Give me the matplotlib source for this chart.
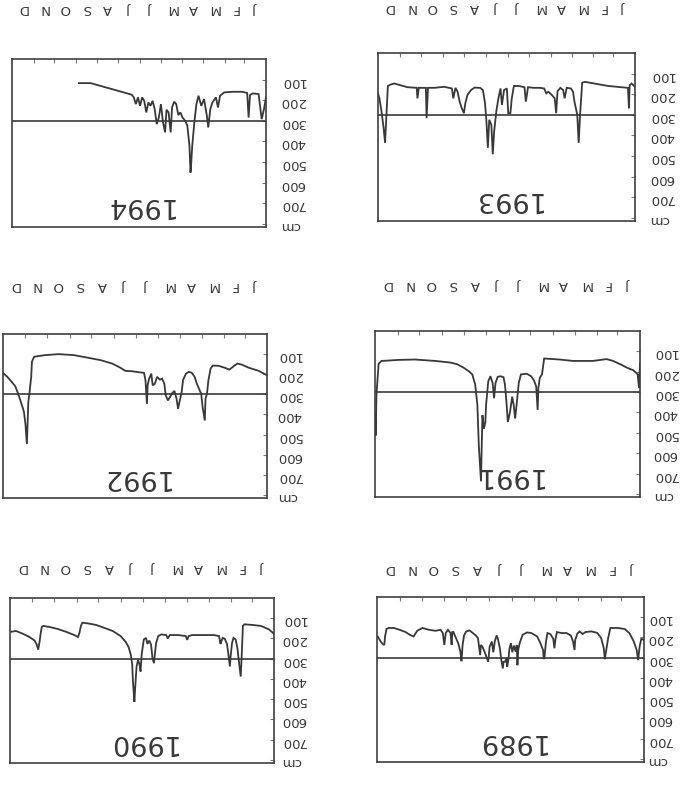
import matplotlib
matplotlib.use("Agg")
import matplotlib.pyplot as plt

# ---- axis vocabulary -------------------------------------------------------
months = ["J", "F", "M", "A", "M", "J", "J", "A", "S", "O", "N", "D"]
month_starts = [0, 31, 59, 90, 120, 151, 181, 212, 243, 273, 304, 334, 365]
depth_ticks = [100, 200, 300, 400, 500, 600, 700]
unit_label = "cm"
reference_level = 300

# ---- daily series (day of year, cm) ---------------------------------------
day_1989 = [0, 3.7, 6, 8, 10, 14, 20, 26.5, 36, 46, 49, 52, 53.5, 55, 58.5, 64, 72, 80, 84, 88,
            91, 94, 95, 97, 100, 106, 113, 119, 121, 122.5, 124, 128, 132, 134, 136, 137, 138,
            142, 146, 154, 160, 166, 170, 172, 173, 174, 175.5, 178, 180, 182, 184, 185.5, 187,
            188, 190, 192, 193, 195, 197, 200, 201.5, 204, 206, 208, 211, 213, 216, 218, 221,
            223, 224, 227, 230, 234, 238.5, 243, 246, 248, 249.5, 251, 254, 258, 260.5, 262,
            263, 264.5, 268, 271, 273, 275, 278, 285, 294, 303, 310, 315, 320, 326, 334, 342,
            349, 352, 354, 355, 357, 360, 364]
cm_1989 = [212, 207, 245, 312, 262, 220, 178, 158, 153, 153, 203, 270, 307, 253, 203, 177, 170,
           173, 183, 170, 180, 212, 262, 220, 190, 178, 178, 173, 207, 253, 207, 183, 178, 220,
           295, 307, 262, 225, 195, 178, 175, 187, 228, 262, 337, 237, 270, 240, 273, 228, 257,
           312, 345, 303, 320, 320, 353, 312, 253, 203, 190, 220, 273, 220, 245, 320, 290, 270,
           245, 237, 287, 203, 190, 178, 165, 170, 190, 237, 317, 270, 228, 195, 173, 173, 237,
           178, 162, 178, 237, 178, 162, 167, 162, 153, 167, 195, 187, 173, 162, 153, 153, 158,
           195, 237, 233, 220, 195]

day_1990 = [0, 7, 18, 30, 41, 43, 44.6, 46, 48, 50.6, 53, 56, 58, 60, 61, 63, 65, 68, 71, 73,
            74, 76, 83, 99, 113, 118, 120, 122, 133, 144, 147, 149, 156, 160, 163, 165, 166,
            168, 170, 172.5, 175, 177, 180, 183, 184.5, 186, 188, 190, 192, 193, 195, 196, 198,
            201, 205, 212, 223, 235, 246, 258, 265, 267, 269, 271, 276, 287.5, 299, 310.5, 319,
            321, 322.5, 324, 326, 328, 331, 338, 347, 356.5, 364]
cm_1990 = [177, 155, 138, 133, 130, 138, 280, 388, 330, 247, 205, 197, 222, 288, 338, 280, 227,
           202, 197, 217, 227, 188, 183, 183, 183, 188, 207, 188, 183, 183, 200, 183, 180, 188,
           222, 288, 322, 297, 230, 210, 227, 197, 205, 280, 363, 327, 305, 338, 447, 513, 413,
           330, 280, 243, 217, 188, 163, 147, 133, 125, 122, 138, 172, 193, 183, 167, 153, 143,
           138, 142, 172, 213, 255, 230, 210, 193, 177, 163, 167]

day_1991 = [0, 1.4, 3.2, 9, 18, 25, 37, 46, 65, 92, 111, 132, 135, 138, 140, 141, 143, 146,
            150, 156, 164, 167, 170, 172, 174, 176, 179, 182, 184, 186, 188, 192, 196, 199, 201,
            203, 206, 209, 212, 213, 215, 217, 218, 219, 222, 224, 227, 231, 236, 243, 252, 261,
            282, 310, 333, 356, 360, 363, 364, 365]
cm_1991 = [160, 280, 213, 193, 180, 167, 147, 138, 147, 147, 140, 135, 213, 230, 280, 388, 272,
           243, 222, 210, 213, 255, 363, 430, 363, 322, 397, 447, 347, 263, 227, 222, 225, 255,
           330, 255, 222, 247, 363, 447, 480, 413, 563, 738, 563, 363, 263, 213, 197, 180, 163,
           155, 147, 140, 142, 147, 160, 313, 513, 413]

day_1992 = [0, 11.5, 25, 35, 41, 46, 52, 59, 67, 75, 78, 81, 83, 85, 86, 89, 91, 94, 97, 100,
            104, 108, 112, 116, 118, 121, 123, 125, 128, 131, 134, 137, 140, 142, 145, 148, 152,
            155, 158, 160, 163, 165, 166, 168, 170, 177, 187, 196, 203, 214, 230, 249, 267, 288,
            307, 322, 325, 326, 328, 330, 331, 332, 334, 336, 338, 341, 344, 348, 353, 359, 365]
cm_1992 = [205, 183, 168, 152, 147, 160, 177, 167, 158, 157, 172, 230, 297, 322, 430, 363, 297,
           272, 247, 213, 193, 188, 197, 227, 288, 338, 372, 322, 283, 293, 313, 330, 305, 247,
           222, 227, 213, 247, 255, 197, 222, 255, 347, 230, 193, 190, 185, 183, 167, 147, 130,
           117, 105, 100, 105, 113, 138, 213, 280, 338, 447, 547, 447, 388, 363, 330, 297, 260,
           238, 213, 193]

day_1993 = [0, 4.8, 7.6, 8.6, 10, 38, 71, 75, 78, 80, 82, 86, 88, 91, 97, 100, 102, 106, 110,
            112, 114, 118, 123, 126, 129, 135, 144, 152, 155, 157, 165, 172, 175, 177, 180, 182,
            186, 189, 191, 194, 197, 200, 202, 204, 207, 209, 211, 213, 216, 220, 228, 233, 238,
            241, 243, 246, 249, 252, 255, 258, 260, 271, 285, 294, 296, 297, 307, 309, 310, 323,
            342, 347, 351, 353, 355, 357, 360, 363, 365]
cm_1993 = [164, 148, 156, 268, 169, 160, 140, 144, 300, 436, 300, 236, 188, 172, 169, 220, 180,
           169, 185, 292, 220, 204, 188, 196, 172, 169, 169, 166, 236, 166, 160, 160, 220, 292,
           292, 172, 180, 252, 172, 220, 284, 380, 491, 348, 324, 460, 332, 244, 180, 169, 168,
           180, 204, 244, 292, 268, 236, 188, 169, 220, 172, 164, 169, 169, 316, 169, 169, 220,
           169, 166, 148, 153, 160, 300, 436, 364, 284, 220, 196]

day_1994 = [0, 2.9, 6.2, 8.6, 10.6, 19, 23, 25, 27, 34, 48, 60, 66, 69, 72, 77, 80, 83, 85, 89,
            93, 97, 100, 103, 106, 108, 108.5, 110, 113, 116, 120, 123, 126, 129, 132, 135, 137,
            140, 143, 145, 148, 151, 154, 157, 160, 163, 166, 169, 172, 175, 178, 181, 184, 187,
            190, 193, 252, 269]
cm_1994 = [186, 243, 292, 227, 170, 167, 175, 284, 165, 159, 159, 162, 178, 235, 186, 211, 243,
           332, 275, 194, 227, 178, 219, 308, 421, 535, 551, 421, 324, 300, 284, 259, 272, 219,
           207, 235, 356, 259, 246, 356, 308, 219, 284, 316, 243, 203, 227, 211, 259, 203, 186,
           227, 186, 219, 186, 173, 117, 117]

years = ["1989", "1990", "1991", "1992", "1993", "1994"]
series = {
    "1989": (day_1989, cm_1989),
    "1990": (day_1990, cm_1990),
    "1991": (day_1991, cm_1991),
    "1992": (day_1992, cm_1992),
    "1993": (day_1993, cm_1993),
    "1994": (day_1994, cm_1994),
}

# ---- page layout: the sheet is printed upside down -------------------------
W, H = 684, 786
# box in pixels (left, top, right, bottom), y-label pad, month-label pad (pt)
frames = {
    "1993": ((378, 53, 635, 221), 10, 28),
    "1994": ((12, 59, 266, 227), 10, 32),
    "1991": ((375, 331, 640, 497), 9, 29),
    "1992": ((3, 334, 267, 498), 7, 30),
    "1989": ((377, 597, 644, 762), 2, 16),
    "1990": ((10, 598, 274, 763), 5, 17),
}

ink = "#383838"
font = "DejaVu Sans"
plt.rcParams["font.family"] = font

fig = plt.figure(figsize=(W / 100, H / 100), dpi=100)
fig.patch.set_facecolor("white")

month_mids = [(a + b) / 2 for a, b in zip(month_starts[:-1], month_starts[1:])]

for year in years:
    (x0, y0, x1, y1), ypad, xpad = frames[year]
    ax = fig.add_axes([x0 / W, 1 - y1 / H, (x1 - x0) / W, (y1 - y0) / H])
    days, cm = series[year]
    ax.plot(days, cm, color=ink, lw=1.3, solid_joinstyle="miter")
    ax.axhline(reference_level, color=ink, lw=1.2)

    ax.set_xlim(365, 0)
    ax.set_ylim(815, 0)

    for s in ax.spines.values():
        s.set_color("#3e3e3e")
        s.set_linewidth(1.2)

    ax.xaxis.tick_top()
    ax.yaxis.tick_right()

    ax.set_xticks(month_starts[1:-1])
    ax.set_xticklabels([])
    ax.set_xticks(month_mids, minor=True)
    ax.set_xticklabels(months, minor=True, rotation=180)
    ax.tick_params(axis="x", which="major", direction="in", length=3, width=0.8,
                   color="#777777", top=True, bottom=False, labeltop=False, labelbottom=False)
    ax.tick_params(axis="x", which="minor", length=0, pad=xpad, labelsize=9.5,
                   labelcolor=ink, top=True, bottom=False, labeltop=True, labelbottom=False)

    ax.set_yticks(depth_ticks + [800])
    ax.set_yticklabels([str(v) for v in depth_ticks] + [unit_label], rotation=180)
    ax.tick_params(axis="y", direction="in", length=3, width=0.8, color="#777777",
                   right=True, left=False, labelright=True, labelleft=False,
                   pad=ypad, labelsize=9.5, labelcolor=ink)

    ax.text(0.5, 0.13, year, transform=ax.transAxes, rotation=180,
            ha="center", va="center", fontsize=19.5, color=ink)

fig.savefig("out.png", dpi=100, facecolor="white")
